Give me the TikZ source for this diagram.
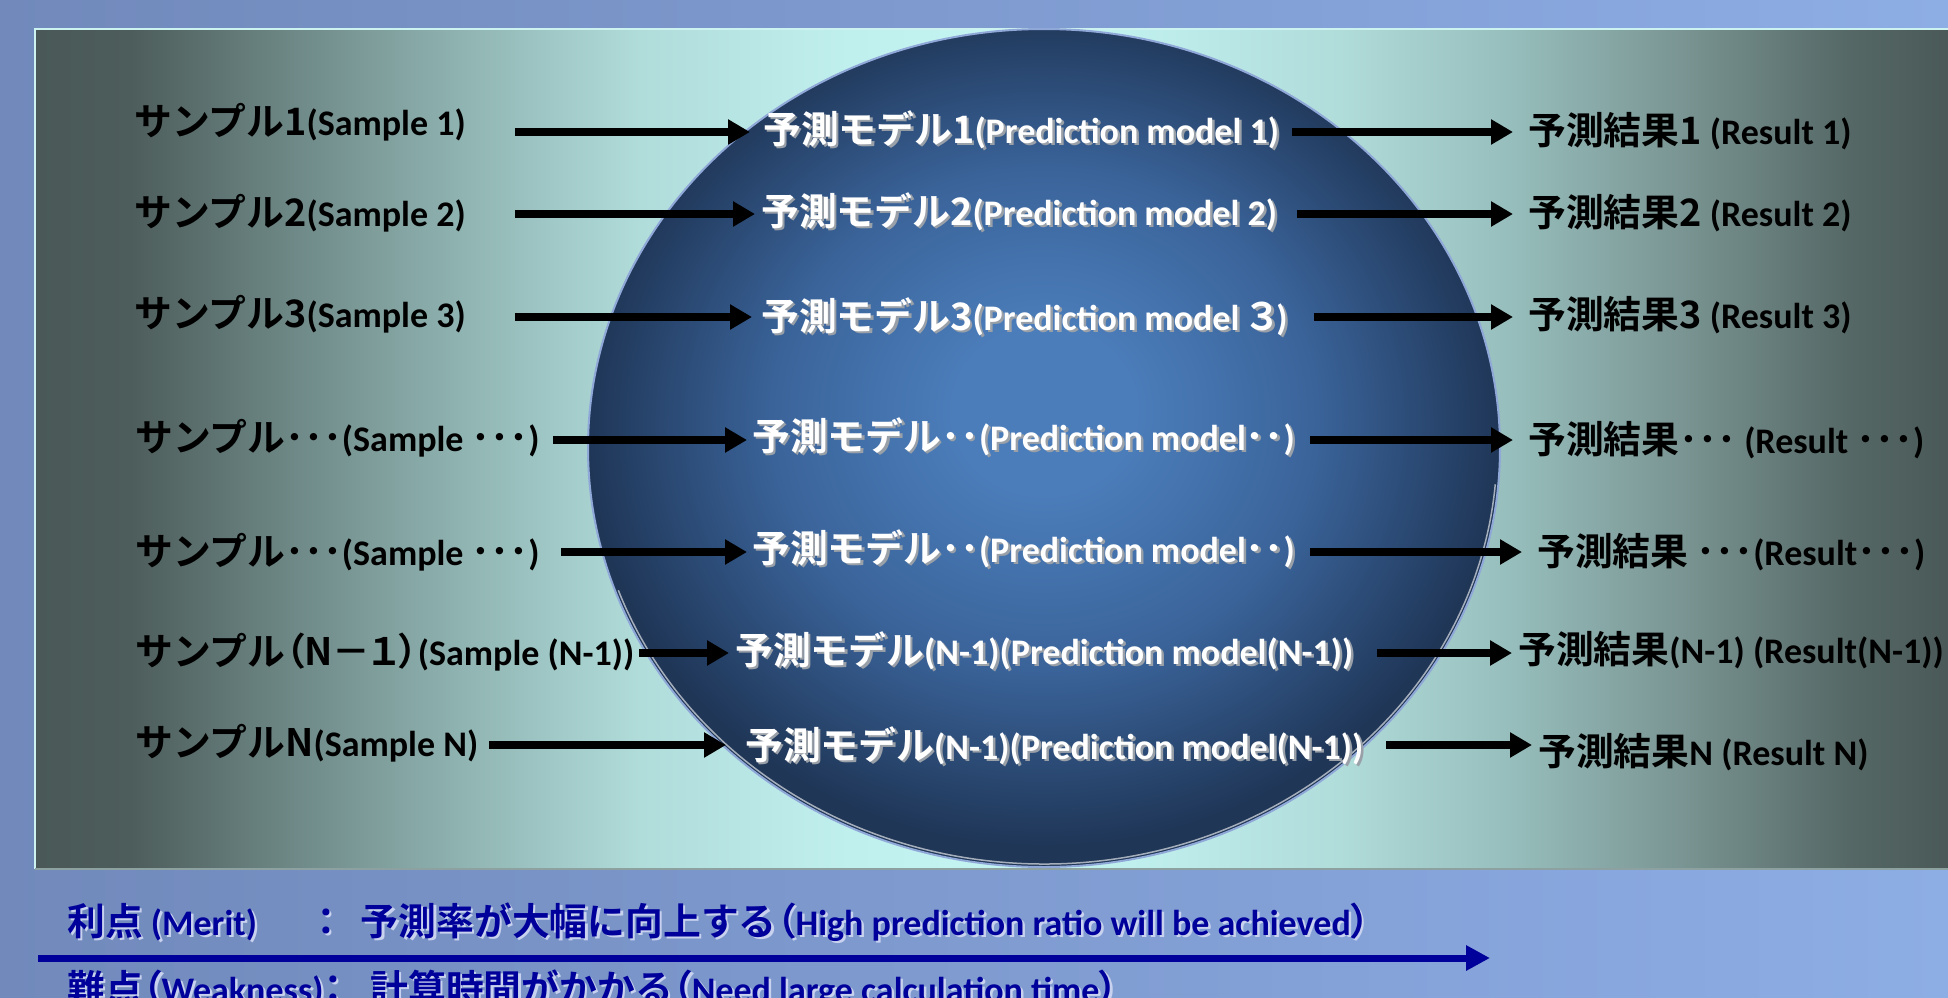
\documentclass[tikz,border=0pt]{standalone}
\usepackage{fontspec}
\setmainfont{Carlito}
\newfontfamily\jpf{Noto Sans CJK JP}[Scale=1.05, BoldFont={Noto Sans CJK JP Bold}]
\newfontfamily\jppf{Noto Sans CJK JP}[Scale=1.05, BoldFont={Noto Sans CJK JP Bold}, RawFeature=+palt]
\usetikzlibrary{arrows.meta}
\newcommand\J[1]{{\jpf #1}}
\newcommand\Jp[1]{{\jppf #1}}
\newcommand\shw[2]{\makebox[0pt][l]{\kern2.5pt\raisebox{-2.5pt}{\color{#1}#2}}#2}
\definecolor{bgl}{HTML}{7189BB}
\definecolor{bgr}{HTML}{8DADE5}
\definecolor{p0}{HTML}{4A5957}
\definecolor{p1}{HTML}{4D5D5B}
\definecolor{p2}{HTML}{6F8A88}
\definecolor{p3}{HTML}{8FB3B1}
\definecolor{p4}{HTML}{B0DCDA}
\definecolor{p5}{HTML}{C0F0EE}
\definecolor{p6}{HTML}{C4F4F2}
\definecolor{p7}{HTML}{95BCBA}
\definecolor{p8}{HTML}{7A9593}
\definecolor{p9}{HTML}{556866}
\definecolor{oc}{HTML}{4B7DBA}
\definecolor{om}{HTML}{3A6399}
\definecolor{oe}{HTML}{1F3657}
\definecolor{orbline}{HTML}{8FA8D8}
\definecolor{navytxt}{HTML}{00009A}
\definecolor{navyshd}{HTML}{C8D2EE}
\definecolor{whshd}{HTML}{9AA0A8}
\pgfdeclarehorizontalshading{panelsh}{100bp}{color(0bp)=(p0); color(25bp)=(p0); color(27.5bp)=(p1); color(31.9bp)=(p2); color(36.1bp)=(p3); color(40.8bp)=(p4); color(46.3bp)=(p5); color(50bp)=(p6); color(53.6bp)=(p5); color(59.1bp)=(p4); color(63.8bp)=(p7); color(68bp)=(p8); color(72.4bp)=(p9); color(75bp)=(p0); color(100bp)=(p0)}
\pgfdeclareradialshading{orbsh}{\pgfpoint{0bp}{2.5bp}}{color(0bp)=(oc); color(5bp)=(oc); color(15bp)=(om); color(25bp)=(oe); color(50bp)=(oe)}
\begin{document}
\begin{tikzpicture}[x=1pt,y=-1pt,
  blk/.style={anchor=west, inner sep=0pt, text=black, font=\bfseries\fontsize{36}{40}\selectfont},
  wht/.style={anchor=west, inner sep=0pt, text=white, font=\bfseries\fontsize{36}{40}\selectfont},
  btm/.style={anchor=west, inner sep=0pt, text=navytxt, font=\bfseries\fontsize{36}{40}\selectfont},
  conn/.style={line width=8pt, draw=black, -{Triangle[length=22pt,width=24pt]}},
  navyarrow/.style={line width=7pt, draw=navytxt, -{Triangle[length=24pt,width=24pt]}}]
\useasboundingbox (0,0) rectangle (1948,998);
% background
\shade[left color=bgl, right color=bgr] (0,0) rectangle (1948,998);
% panel
\shade[shading=panelsh] (35,29) rectangle (1948,869);
\draw[line width=2pt, draw=p5!80!white] (35,869) -- (35,29) -- (1948,29);
\draw[line width=2pt, draw=p2!80!white] (35,869) -- (1948,869);
% orb
\shade[shading=orbsh] (1044,448) ellipse [x radius=456, y radius=419];
\draw[line width=2pt, draw=orbline] (1044,448) ellipse [x radius=456, y radius=419];
\draw[line width=1.5pt, draw=white, opacity=0.6] (1044,448) ++(5:453 and 416) arc[start angle=5, end angle=160, x radius=453, y radius=416];
% rows
\coordinate (y1) at (0,132);
\coordinate (y2) at (0,214);
\coordinate (y3) at (0,317);
\coordinate (y4) at (0,440);
\coordinate (y5) at (0,552);
\coordinate (y6) at (0,653);
\coordinate (y7) at (0,745);
% left
\node[blk] (s1) at (134,122) {\J{サンプル1}(Sample 1)};
\node[blk] (s2) at (134,213) {\J{サンプル2}(Sample 2)};
\node[blk] (s3) at (134,314) {\J{サンプル3}(Sample 3)};
\node[blk] (s4) at (135,438) {\J{サンプル･･･}(Sample \J{･･･})};
\node[blk] (s5) at (135,552) {\J{サンプル･･･}(Sample \J{･･･})};
\node[blk] (s6) at (135,652) {\J{サンプル}\Jp{（N－１）}(Sample (N-1))};
\node[blk] (s7) at (135,743) {\J{サンプルN}(Sample N)};
% middle
\node[wht] (m1) at (763,131) {\shw{whshd}{\J{予測モデル1}(Prediction model 1)}};
\node[wht] (m2) at (761,213) {\shw{whshd}{\J{予測モデル2}(Prediction model 2)}};
\node[wht] (m3) at (761,318) {\shw{whshd}{\J{予測モデル3}(Prediction model \Jp{３})}};
\node[wht] (m4) at (752,438) {\shw{whshd}{\J{予測モデル･･}(Prediction model\J{･･})}};
\node[wht] (m5) at (752,550) {\shw{whshd}{\J{予測モデル･･}(Prediction model\J{･･})}};
\node[wht] (m6) at (735,652) {\shw{whshd}{\J{予測モデル}(N-1)(Prediction model(N-1))}};
\node[wht] (m7) at (745,747) {\shw{whshd}{\J{予測モデル}(N-1)(Prediction model(N-1))}};
% right
\node[blk] (r1) at (1528,131) {\J{予測結果1} (Result 1)};
\node[blk] (r2) at (1528,213) {\J{予測結果2} (Result 2)};
\node[blk] (r3) at (1528,315) {\J{予測結果3} (Result 3)};
\node[blk] (r4) at (1528,440) {\J{予測結果･･･} (Result \J{･･･})};
\node[blk] (r5) at (1537,552) {\J{予測結果} \J{･･･}(Result\J{･･･})};
\node[blk] (r6) at (1518,650) {\J{予測結果}(N-1) (Result(N-1))};
\node[blk] (r7) at (1538,752) {\J{予測結果}N (Result N)};
% connectors
\draw[conn, shorten <=49pt, shorten >=13pt] (s1.east |- y1) -- (m1.west |- y1);
\draw[conn, shorten <=49pt, shorten >=6pt] (s2.east |- y2) -- (m2.west |- y2);
\draw[conn, shorten <=49pt, shorten >=9pt] (s3.east |- y3) -- (m3.west |- y3);
\draw[conn, shorten <=13pt, shorten >=5pt] (s4.east |- y4) -- (m4.west |- y4);
\draw[conn, shorten <=21pt, shorten >=5pt] (s5.east |- y5) -- (m5.west |- y5);
\draw[conn, shorten <=5pt, shorten >=6pt] (s6.east |- y6) -- (m6.west |- y6);
\draw[conn, shorten <=11pt, shorten >=19pt] (s7.east |- y7) -- (m7.west |- y7);
\draw[conn, shorten <=13pt, shorten >=15pt] (m1.east |- y1) -- (r1.west |- y1);
\draw[conn, shorten <=20pt, shorten >=15pt] (m2.east |- y2) -- (r2.west |- y2);
\draw[conn, shorten <=26pt, shorten >=15pt] (m3.east |- y3) -- (r3.west |- y3);
\draw[conn, shorten <=15pt, shorten >=15pt] (m4.east |- y4) -- (r4.west |- y4);
\draw[conn, shorten <=15pt, shorten >=15pt] (m5.east |- y5) -- (r5.west |- y5);
\draw[conn, shorten <=24pt, shorten >=6pt] (m6.east |- y6) -- (r6.west |- y6);
\draw[conn, shorten <=23pt, shorten >=6pt] (m7.east |- y7) -- (r7.west |- y7);
% bottom
\node[btm] (merit) at (67,923) {\shw{navyshd}{\J{利点} (Merit)\hspace{50pt}\J{：}\hspace{16pt}\J{予測率が大幅に向上する}\Jp{（}High prediction ratio will be achieved\Jp{）}}};
\coordinate (na) at (38,958);
\coordinate (nb) at (1490,958);
\draw[navyarrow] (na) -- (nb);
\node[btm] (weak) at (67,990) {\shw{navyshd}{\J{難点}\Jp{（}Weakness)\Jp{：}\hspace{28pt}\J{計算時間がかかる}\Jp{（}Need large calculation time\Jp{）}}};
\end{tikzpicture}
\end{document}
